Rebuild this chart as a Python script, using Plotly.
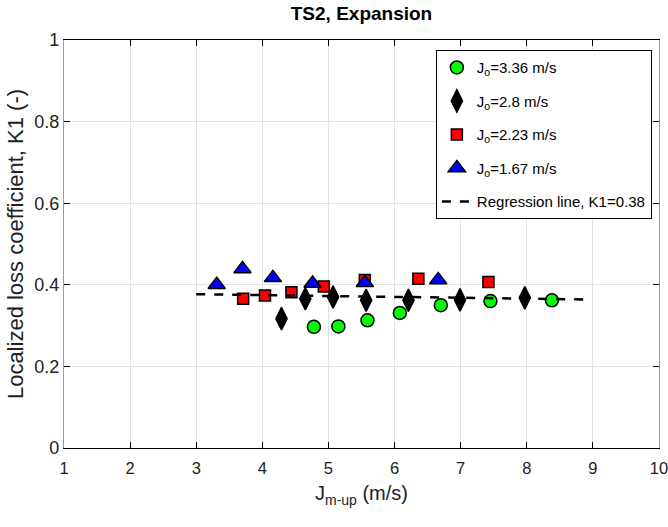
import plotly.graph_objects as go

# Data
x_336 = [4.78, 5.15, 5.59, 6.08, 6.70, 7.45, 8.38]
y_336 = [0.297, 0.298, 0.313, 0.331, 0.350, 0.360, 0.362]

x_28 = [4.29, 4.65, 5.07, 5.57, 6.21, 6.99, 7.97]
y_28 = [0.317, 0.366, 0.370, 0.362, 0.362, 0.363, 0.368]

x_223 = [3.71, 4.04, 4.44, 4.93, 5.55, 6.36, 7.42]
y_223 = [0.366, 0.374, 0.382, 0.396, 0.412, 0.415, 0.407]

x_167 = [3.31, 3.70, 4.16, 4.76, 5.55, 6.66]
y_167 = [0.400, 0.439, 0.417, 0.403, 0.405, 0.412]

x_reg = [3.0, 8.9]
y_reg = [0.377, 0.364]

x_ticks = [1, 2, 3, 4, 5, 6, 7, 8, 9, 10]
y_ticks = [0, 0.2, 0.4, 0.6, 0.8, 1]

FONT = "Liberation Sans, Arial, sans-serif"

fig = go.Figure()

def add(x, y, name, symbol, color, size, grp):
    fig.add_trace(go.Scatter(
        x=x, y=y, mode="markers", name=name, legendgroup=grp,
        marker=dict(symbol=symbol, color=color, size=size,
                    line=dict(color="black", width=1.5)),
    ))

add(x_336, y_336, "J<sub>o</sub>=3.36 m/s", "circle", "#00ff00", 13, "a")
add(x_28, y_28, "J<sub>o</sub>=2.8 m/s", "diamond-tall", "black", 16, "b")
add(x_223, y_223, "J<sub>o</sub>=2.23 m/s", "square", "#ff0000", 11, "c")
add(x_167, y_167, "J<sub>o</sub>=1.67 m/s", "triangle-up", "#0000ff", 15, "d")

fig.add_trace(go.Scatter(
    x=x_reg, y=y_reg, mode="lines", name="Regression line, K1=0.38", legendgroup="e",
    line=dict(color="black", width=2.5, dash="dash"),
))

fig.update_layout(
    width=668, height=527,
    margin=dict(l=64, r=9, t=40, b=79),
    paper_bgcolor="white", plot_bgcolor="white",
    font=dict(family=FONT, color="#222222", size=17),
    title=dict(text="<b>TS2, Expansion</b>", x=361.5 / 668, xanchor="center",
               y=1 - 13 / 527, yanchor="middle",
               font=dict(family=FONT, size=19, color="black")),
    showlegend=True,
    legend=dict(x=0.988, xanchor="right", y=0.975, yanchor="top",
                bgcolor="white", bordercolor="black", borderwidth=1,
                font=dict(family=FONT, size=15, color="black"),
                tracegroupgap=11, itemwidth=30),
)

fig.update_xaxes(
    range=[1, 10], tickvals=x_ticks, ticktext=[str(v) for v in x_ticks],
    ticklabeloverflow="allow", automargin=False, ticklabelstandoff=5,
    showgrid=True, gridcolor="#e3e3e3", gridwidth=1,
    showline=True, linecolor="black", linewidth=1.2, mirror="ticks",
    ticks="inside", ticklen=6, tickcolor="black",
    tickfont=dict(family=FONT, size=16.5, color="#222222"),
    zeroline=False,
    title=dict(text="J<sub>m-up</sub> (m/s)", font=dict(family=FONT, size=20, color="#222222"),
               standoff=10),
)
fig.update_yaxes(
    range=[0, 1], tickvals=y_ticks, ticktext=["0", "0.2", "0.4", "0.6", "0.8", "1"],
    ticklabeloverflow="allow", automargin=False,
    showgrid=True, gridcolor="#e3e3e3", gridwidth=1,
    showline=True, linecolor="#9a9a9a", linewidth=1.2, mirror="ticks",
    ticks="inside", ticklen=6, tickcolor="black",
    tickfont=dict(family=FONT, size=18, color="#222222"),
    zeroline=False,
    title=dict(text="Localized loss coefficient, K1 (-)",
               font=dict(family=FONT, size=22, color="#222222"),
               standoff=4),
)

fig.write_html("out.html")
